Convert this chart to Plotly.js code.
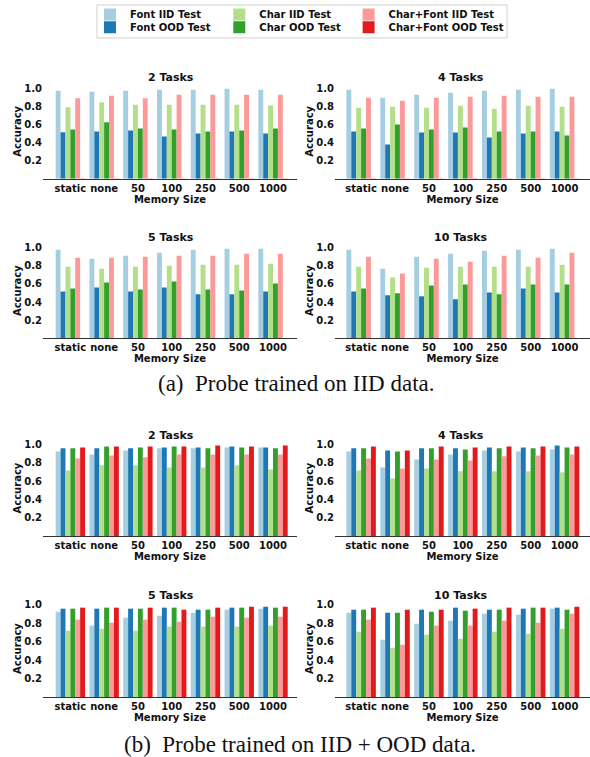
<!DOCTYPE html>
<html><head><meta charset="utf-8">
<script src="https://cdn.plot.ly/plotly-3.0.1.min.js"></script>
<style>html,body{margin:0;padding:0;background:#fff}#chart{width:590px;height:757px}</style>
</head><body><div id="chart"></div>
<script>
const W = 590, H = 757;

const categories = ['static', 'none', '50', '100', '250', '500', '1000'];
const seriesNames = ['Font IID Test', 'Font OOD Test', 'Char IID Test', 'Char OOD Test', 'Char+Font IID Test', 'Char+Font OOD Test'];
const seriesColors = ['#a6cee3', '#1f78b4', '#b2df8a', '#33a02c', '#fb9a99', '#e31a1c'];
const panelTitles = ['2 Tasks', '4 Tasks', '5 Tasks', '10 Tasks'];
const captions = ['(a)\u00a0 Probe trained on IID data.', '(b)\u00a0 Probe trained on IID + OOD data.'];

// (a) Probe trained on IID data — series order: Font IID, Font OOD, Char IID, Char OOD, Char+Font IID, Char+Font OOD
const iid_2tasks = [
  [0.974, 0.963, 0.974, 0.985, 0.985, 0.996, 0.985],
  [0.515, 0.522, 0.533, 0.467, 0.500, 0.522, 0.500],
  [0.790, 0.846, 0.820, 0.820, 0.820, 0.820, 0.810],
  [0.544, 0.625, 0.555, 0.544, 0.522, 0.533, 0.555],
  [0.890, 0.919, 0.890, 0.930, 0.930, 0.930, 0.930],
  [0.004, 0.004, 0.004, 0.004, 0.004, 0.004, 0.004]
];
const iid_4tasks = [
  [0.985, 0.897, 0.930, 0.952, 0.974, 0.985, 0.996],
  [0.522, 0.379, 0.511, 0.511, 0.456, 0.500, 0.522],
  [0.787, 0.798, 0.787, 0.809, 0.776, 0.809, 0.798],
  [0.555, 0.600, 0.544, 0.566, 0.522, 0.522, 0.478],
  [0.897, 0.864, 0.897, 0.908, 0.919, 0.908, 0.908],
  [0.004, 0.004, 0.004, 0.004, 0.004, 0.004, 0.004]
];
const iid_5tasks = [
  [0.975, 0.876, 0.909, 0.942, 0.975, 0.985, 0.985],
  [0.516, 0.560, 0.516, 0.560, 0.484, 0.484, 0.516],
  [0.789, 0.767, 0.789, 0.800, 0.811, 0.811, 0.822],
  [0.549, 0.615, 0.538, 0.625, 0.538, 0.527, 0.604],
  [0.887, 0.887, 0.898, 0.909, 0.909, 0.931, 0.931],
  [0.004, 0.004, 0.004, 0.004, 0.004, 0.004, 0.004]
];
const iid_10tasks = [
  [0.975, 0.767, 0.898, 0.931, 0.964, 0.975, 0.985],
  [0.516, 0.473, 0.462, 0.429, 0.505, 0.549, 0.505],
  [0.789, 0.669, 0.778, 0.789, 0.789, 0.789, 0.811],
  [0.549, 0.495, 0.582, 0.593, 0.484, 0.593, 0.593],
  [0.898, 0.713, 0.876, 0.844, 0.909, 0.887, 0.942],
  [0.004, 0.004, 0.004, 0.004, 0.004, 0.004, 0.004]
];

// (b) Probe trained on IID + OOD data
const mix_2tasks = [
  [0.924, 0.891, 0.935, 0.957, 0.957, 0.967, 0.967],
  [0.957, 0.957, 0.957, 0.967, 0.967, 0.978, 0.967],
  [0.717, 0.772, 0.772, 0.750, 0.750, 0.772, 0.728],
  [0.957, 0.978, 0.967, 0.978, 0.957, 0.967, 0.957],
  [0.848, 0.880, 0.859, 0.891, 0.891, 0.891, 0.891],
  [0.967, 0.978, 0.978, 0.978, 0.989, 0.978, 0.989]
];
const mix_4tasks = [
  [0.924, 0.750, 0.837, 0.891, 0.935, 0.924, 0.946],
  [0.957, 0.935, 0.957, 0.957, 0.967, 0.967, 0.989],
  [0.717, 0.630, 0.739, 0.707, 0.707, 0.707, 0.696],
  [0.957, 0.924, 0.957, 0.946, 0.957, 0.957, 0.967],
  [0.848, 0.739, 0.837, 0.826, 0.870, 0.880, 0.891],
  [0.978, 0.935, 0.978, 0.967, 0.978, 0.978, 0.978]
];
const mix_5tasks = [
  [0.924, 0.773, 0.859, 0.881, 0.913, 0.946, 0.957],
  [0.957, 0.957, 0.957, 0.968, 0.946, 0.968, 0.978],
  [0.718, 0.740, 0.718, 0.762, 0.762, 0.762, 0.773],
  [0.957, 0.968, 0.957, 0.968, 0.946, 0.968, 0.968],
  [0.838, 0.805, 0.838, 0.816, 0.870, 0.859, 0.870],
  [0.968, 0.968, 0.968, 0.946, 0.968, 0.978, 0.978]
];
const mix_10tasks = [
  [0.913, 0.621, 0.794, 0.827, 0.903, 0.892, 0.957],
  [0.946, 0.913, 0.946, 0.968, 0.946, 0.957, 0.968],
  [0.708, 0.534, 0.675, 0.632, 0.708, 0.686, 0.740],
  [0.946, 0.913, 0.924, 0.935, 0.946, 0.968, 0.946],
  [0.838, 0.567, 0.773, 0.773, 0.827, 0.805, 0.903],
  [0.968, 0.946, 0.946, 0.957, 0.968, 0.968, 0.978]
];

const panelData = [iid_2tasks, iid_4tasks, iid_5tasks, iid_10tasks, mix_2tasks, mix_4tasks, mix_5tasks, mix_10tasks];

// ---- layout geometry (pixels) ----
const px2x = p => p / W;
const px2y = p => 1 - p / H;
const colPx = [[43, 297], [335, 590]];
const colRange = [[-0.81, 6.71], [-0.77, 6.75]];
const colTitleX = [171, 461];
const rowZero = [178, 337.8, 536, 697];
const rowUnit = [90.5, 91, 92, 92.5];
const rowTitleY = [77, 237, 435, 595];
const YMAX = 1.05;

const FONT = 'DejaVu Sans';
const bold = s => ({family: FONT, size: s, weight: 'bold', color: '#111'});

const legendId = s => {
  const n = (s % 2) * 3 + Math.floor(s / 2) + 1;
  return n === 1 ? 'legend' : 'legend' + n;
};

const traces = [];
const layout = {
  width: W, height: H,
  margin: {l: 0, r: 0, t: 0, b: 0},
  paper_bgcolor: '#fff', plot_bgcolor: '#fff',
  barmode: 'group', bargap: 0.13, bargroupgap: 0,
  showlegend: true,
  font: {family: FONT, color: '#111'},
  annotations: [], shapes: []
};

panelData.forEach((vals, i) => {
  const col = i % 2, row = Math.floor(i / 2);
  const sfx = i === 0 ? '' : String(i + 1);
  vals.forEach((v, s) => {
    traces.push({
      type: 'bar', x: categories, y: v, name: seriesNames[s],
      marker: {color: seriesColors[s], line: {width: 0}},
      xaxis: 'x' + sfx, yaxis: 'y' + sfx,
      showlegend: i === 0,
      legend: legendId(s),
      hoverinfo: 'skip'
    });
  });
  const zero = rowZero[row], top = zero - YMAX * rowUnit[row];
  layout['xaxis' + sfx] = {
    domain: [px2x(colPx[col][0]), px2x(colPx[col][1])],
    anchor: 'y' + sfx, type: 'category', range: colRange[col],
    showline: true, linecolor: '#333', linewidth: 1,
    ticks: '', showgrid: false, zeroline: false,
    tickfont: bold(10),
    title: {text: 'Memory Size', font: bold(10), standoff: 0}
  };
  layout['yaxis' + sfx] = {
    domain: [px2y(zero), px2y(top)],
    anchor: 'x' + sfx, range: [0, YMAX],
    tickvals: [0.2, 0.4, 0.6, 0.8, 1.0], tickformat: '.1f',
    showline: false, ticks: '', showgrid: false, zeroline: false,
    tickfont: bold(10),
    title: {text: 'Accuracy', font: bold(10), standoff: 0}
  };
  layout.annotations.push({
    xref: 'paper', yref: 'paper', x: px2x(colTitleX[col]), y: px2y(rowTitleY[row]),
    xanchor: 'center', yanchor: 'middle', showarrow: false,
    text: panelTitles[i % 4], font: bold(11)
  });
});

// captions
layout.annotations.push({
  xref: 'paper', yref: 'paper', x: px2x(297), y: px2y(383), xanchor: 'center', yanchor: 'middle',
  showarrow: false, text: captions[0], font: {family: 'Liberation Serif', size: 23, color: '#111'}
});
layout.annotations.push({
  xref: 'paper', yref: 'paper', x: px2x(300), y: px2y(744), xanchor: 'center', yanchor: 'middle',
  showarrow: false, text: captions[1], font: {family: 'Liberation Serif', size: 23, color: '#111'}
});

// legends: one per entry, laid out as 3 columns x 2 rows
const legendColX = [90, 219.3, 348.6];
const legendRowY = [13.3, 27.3];
for (let s = 0; s < 6; s++) {
  layout[legendId(s)] = {
    orientation: 'v', xanchor: 'left', yanchor: 'middle',
    x: px2x(legendColX[Math.floor(s / 2)]), y: px2y(legendRowY[s % 2]),
    font: bold(10), bgcolor: 'rgba(0,0,0,0)', borderwidth: 0,
    itemclick: false, itemdoubleclick: false
  };
}
layout.shapes.push({
  type: 'rect', xref: 'paper', yref: 'paper',
  x0: px2x(97), x1: px2x(507), y0: px2y(4), y1: px2y(37),
  line: {color: '#cfcfcf', width: 1}, fillcolor: 'rgba(0,0,0,0)'
});

Plotly.newPlot('chart', traces, layout, {staticPlot: true, displayModeBar: false});
</script>
</body></html>
